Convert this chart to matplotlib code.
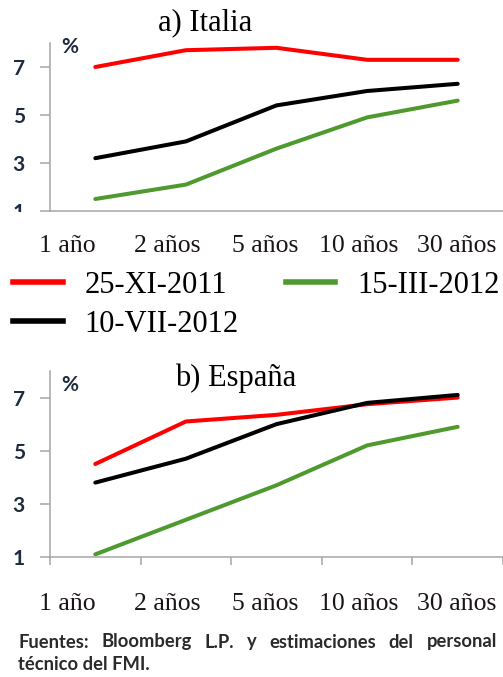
import matplotlib
matplotlib.use("Agg")
import matplotlib.pyplot as plt
from matplotlib.lines import Line2D
from matplotlib.transforms import Bbox

# rendimientos de la deuda publica (%), por plazo
plazos = ["1 año", "2 años", "5 años", "10 años", "30 años"]
fechas = ["25-XI-2011", "15-III-2012", "10-VII-2012"]
colores = ["#ff0000", "#4f9a2f", "#000000"]

italia_nov11 = [7.0, 7.7, 7.8, 7.3, 7.3]
italia_mar12 = [1.5, 2.1, 3.6, 4.9, 5.6]
italia_jul12 = [3.2, 3.9, 5.4, 6.0, 6.3]

espana_nov11 = [4.5, 6.1, 6.35, 6.75, 7.0]
espana_mar12 = [1.1, 2.4, 3.7, 5.2, 5.9]
espana_jul12 = [3.8, 4.7, 6.0, 6.8, 7.1]

yticks = [1, 3, 5, 7]
fuente_1 = "Fuentes: Bloomberg L.P. y estimaciones del personal"
fuente_2 = "técnico del FMI."

W, H = 503, 677
fig = plt.figure(figsize=(W / 100, H / 100), dpi=100)

SERIF = "Liberation Serif"
GRIS = "#a6a6a6"
AZUL = "#1f2b3e"
label_pos = [-0.31, 0.79, 1.87, 2.91, 3.99]


def add_ax(l, t, r, b):
    return fig.add_axes([l / W, 1 - b / H, (r - l) / W, (b - t) / H])


def panel(ax, series, marcas, pad_x):
    x = range(len(plazos))
    for s, c in zip(series, colores):
        ax.plot(x, s, color=c, lw=2.9, solid_capstyle="round", solid_joinstyle="round")
    ax.set_xlim(-0.5, len(plazos) - 0.5)
    ax.set_ylim(1, 8)
    ax.set_yticks(yticks)
    ax.set_yticklabels([str(v) for v in yticks], fontfamily="Lato",
                       fontweight="bold", fontsize=15, color=AZUL)
    ax.tick_params(axis="y", length=7.2, width=1.1, color=GRIS, pad=11)
    # marcas entre categorias, etiquetas desplazadas como en el original
    ax.set_xticks([i - 0.5 for i in range(len(plazos) + 1)])
    ax.set_xticklabels([])
    ax.set_xticks(label_pos, minor=True)
    ax.set_xticklabels(plazos, minor=True, fontfamily=SERIF, fontsize=18.5, color="#1a1414")
    ax.tick_params(axis="x", which="major", length=5.8 if marcas else 0, width=1.1, color=GRIS)
    ax.tick_params(axis="x", which="minor", length=0, pad=pad_x)
    for sp in ["top", "right"]:
        ax.spines[sp].set_visible(False)
    for sp in ["left", "bottom"]:
        ax.spines[sp].set_color(GRIS)
        ax.spines[sp].set_linewidth(1.1)
    ax.patch.set_alpha(0)


ax1 = add_ax(50, 43, 503, 211)
panel(ax1, [italia_nov11, italia_mar12, italia_jul12], False, 17)
ax2 = add_ax(50, 371, 503, 557)
panel(ax2, [espana_nov11, espana_mar12, espana_jul12], True, 26)

# el "1" de Italia aparece cortado en el original
t1 = ax1.yaxis.get_major_ticks()[0].label1
t1.set_clip_on(True)
t1.set_clip_box(Bbox([[0, H - 212], [50, H]]))

fig.text(205 / W, 1 - 23 / H, "a) Italia", fontfamily=SERIF, fontsize=22, ha="center", va="center")
fig.text(236 / W, 1 - 378 / H, "b) España", fontfamily=SERIF, fontsize=22, ha="center", va="center")
for yy in (47, 385):
    fig.text(70 / W, 1 - yy / H, "%", fontfamily="Lato", fontweight="bold",
             fontsize=15, color=AZUL, ha="center", va="center")

handles = [Line2D([], [], color=colores[i], lw=4) for i in (0, 2, 1)]
fig.legend(handles, [fechas[i] for i in (0, 2, 1)], ncol=2, frameon=False,
           loc="upper left", bbox_to_anchor=(13 / W, 1 - 271 / H),
           prop={"family": SERIF, "size": 22}, handlelength=1.63, handletextpad=0.72,
           columnspacing=1.53, labelspacing=0.32, borderpad=0, borderaxespad=0)

# nota de fuentes, primera linea justificada
fig.canvas.draw()
r = fig.canvas.get_renderer()
fprops = dict(fontfamily="Lato", fontweight="bold", fontsize=13.2, color="#2a2a2a", va="center")
palabras = fuente_1.split()
arts = [fig.text(0, 1 - 642 / H, p, **fprops) for p in palabras]
anchos = [a.get_window_extent(r).width for a in arts]
x0, x1 = 18, 497
hueco = (x1 - x0 - sum(anchos)) / (len(palabras) - 1)
xx = x0
for a, w in zip(arts, anchos):
    a.set_x(xx / W)
    xx += w + hueco
fig.text(x0 / W, 1 - 664 / H, fuente_2, **fprops)

fig.savefig("out.png", dpi=100)
